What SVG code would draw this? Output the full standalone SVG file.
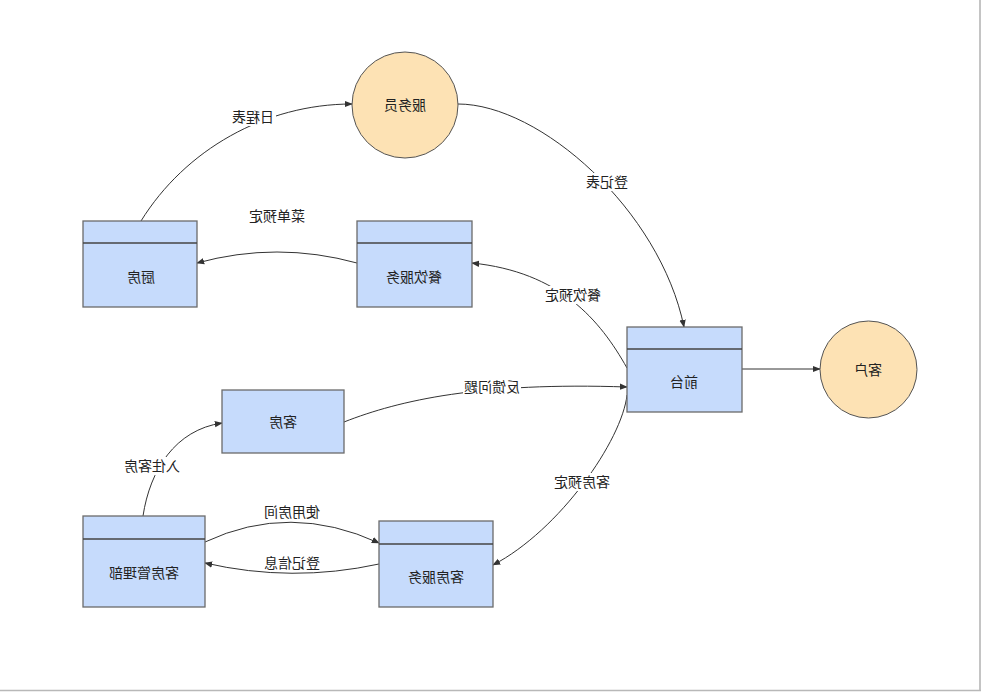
<svg xmlns="http://www.w3.org/2000/svg" width="983" height="692" viewBox="0 0 983 692">
<style>
.box{fill:#c6dbfc;stroke:#6b6b6b;stroke-width:1.3}
.hdr{stroke:#444;stroke-width:1.3}
.circ{fill:#fde2b4;stroke:#555;stroke-width:1}
.edge{fill:none;stroke:#333;stroke-width:1;marker-end:url(#arr)}
.t{font-family:"Noto Sans CJK SC","Noto Sans",sans-serif;font-size:14px;fill:#222;text-anchor:middle}
.lbg{fill:#fff}
</style>
<defs>
<marker id="arr" viewBox="0 0 10 10" refX="9" refY="5" markerWidth="8" markerHeight="8" markerUnits="userSpaceOnUse" orient="auto">
<path d="M0,1 L10,5 L0,9 z" fill="#333"/>
</marker>
</defs>
<rect x="0" y="0" width="983" height="692" fill="#fff"/>
<line x1="980" y1="0" x2="980" y2="691" stroke="#c4c4c4" stroke-width="2"/>
<line x1="0" y1="690.5" x2="981" y2="690.5" stroke="#b8b8b8" stroke-width="1.5"/>

<g id="connectors">
<path class="edge" d="M141,221 C185,150 265,104 352,104"/>
<path class="edge" d="M458,104 C540,104 660,210 684,327"/>
<path class="edge" d="M627,368 C600,320 560,272 472,263"/>
<path class="edge" d="M357,263 Q277,241 197,263"/>
<path class="edge" d="M344,422 C400,400 480,382 627,387"/>
<path class="edge" d="M627,395 C622,440 560,530 493,565"/>
<path class="edge" d="M143,516 C150,470 175,430 222,423"/>
<path class="edge" d="M205,542 Q290,502 379,543"/>
<path class="edge" d="M379,564 Q292,583 205,563"/>
<path class="edge" d="M742,369 L820,369"/>
<g id="edge-labels">
<rect class="lbg" x="230" y="108" width="46" height="18"/>
<text class="t" transform="translate(253,122) scale(-1,1)">日程表</text>
<rect class="lbg" x="584" y="173" width="46" height="18"/>
<text class="t" transform="translate(607,187) scale(-1,1)">登记表</text>
<rect class="lbg" x="544" y="286" width="58" height="18"/>
<text class="t" transform="translate(573,300) scale(-1,1)">餐饮预定</text>
<text class="t" transform="translate(277,221) scale(-1,1)">菜单预定</text>
<rect class="lbg" x="463" y="378" width="58" height="18"/>
<text class="t" transform="translate(492,392) scale(-1,1)">反馈问题</text>
<rect class="lbg" x="553" y="473" width="58" height="18"/>
<text class="t" transform="translate(582,487) scale(-1,1)">客房预定</text>
<rect class="lbg" x="122" y="457" width="59" height="18"/>
<text class="t" transform="translate(152,471) scale(-1,1)">入住客房</text>
<text class="t" transform="translate(292,517) scale(-1,1)">使用房间</text>
<text class="t" transform="translate(292,568) scale(-1,1)">登记信息</text>
</g>
</g>

<g id="node-fuwuyuan">
<circle class="circ" cx="405" cy="105" r="53"/>
<text class="t" transform="translate(405,110) scale(-1,1)">服务员</text>
</g>
<g id="node-kehu">
<circle class="circ" cx="868.5" cy="369.5" r="48.5"/>
<text class="t" transform="translate(868,375) scale(-1,1)">客户</text>
</g>
<g id="node-qiantai">
<rect class="box" x="627" y="327" width="115" height="85"/>
<line class="hdr" x1="627" y1="349" x2="742" y2="349"/>
<text class="t" transform="translate(684,387) scale(-1,1)">前台</text>
</g>
<g id="node-chufang">
<rect class="box" x="83" y="221" width="114" height="86"/>
<line class="hdr" x1="83" y1="243" x2="197" y2="243"/>
<text class="t" transform="translate(141,282) scale(-1,1)">厨房</text>
</g>
<g id="node-canyin">
<rect class="box" x="357" y="221" width="115" height="86"/>
<line class="hdr" x1="357" y1="243" x2="472" y2="243"/>
<text class="t" transform="translate(414,282) scale(-1,1)">餐饮服务</text>
</g>
<g id="node-kefang">
<rect class="box" x="222" y="390" width="122" height="63"/>
<text class="t" transform="translate(283,427) scale(-1,1)">客房</text>
</g>
<g id="node-guanlibu">
<rect class="box" x="83" y="516" width="122" height="91"/>
<line class="hdr" x1="83" y1="539" x2="205" y2="539"/>
<text class="t" transform="translate(144,578) scale(-1,1)">客房管理部</text>
</g>
<g id="node-kefangfuwu">
<rect class="box" x="379" y="521" width="114" height="86"/>
<line class="hdr" x1="379" y1="544" x2="493" y2="544"/>
<text class="t" transform="translate(436,582) scale(-1,1)">客房服务</text>
</g>
</svg>
